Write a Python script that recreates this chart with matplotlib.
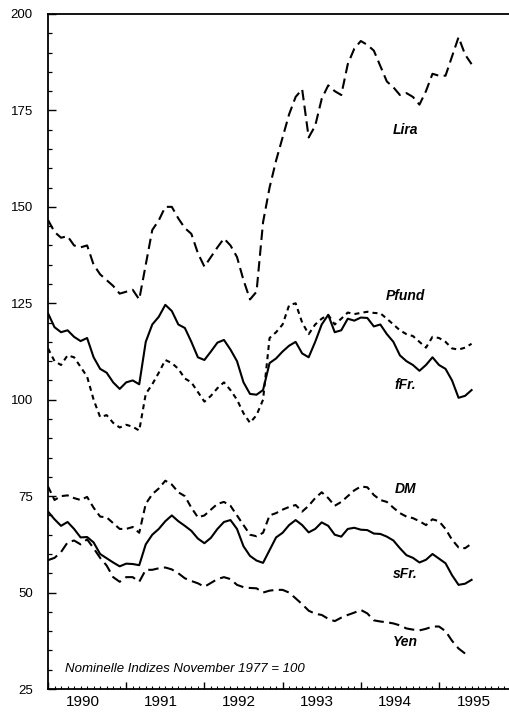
import numpy as np
import matplotlib
matplotlib.use("Agg")
import matplotlib.pyplot as plt
from matplotlib.ticker import MultipleLocator, FixedLocator

plt.rcParams['font.family'] = ['Liberation Sans', 'DejaVu Sans']

# ---- data (monthly, Jan 1990 .. Jun 1995), nominal indices Nov 1977 = 100 ----
start_year = 1990
n_months = 66
years = [1990, 1991, 1992, 1993, 1994, 1995]
year_labels = ['1990', '1991', '1992', '1993', '1994', '1995']
y_ticks = [25, 50, 75, 100, 125, 150, 175, 200]

lira = [146.6, 143.5, 142.0, 142.4, 140.0, 139.5, 140.0, 135.0, 132.5, 131.0,
        129.5, 127.5, 128.0, 128.5, 126.0, 135.0, 144.0, 146.5, 150.0, 150.0,
        147.0, 144.5, 143.0, 138.0, 134.5, 137.0, 139.5, 141.8, 140.0, 137.0,
        131.0, 126.0, 128.0, 146.0, 155.0, 162.0, 168.0, 174.0, 178.5, 180.5,
        168.0, 171.0, 178.0, 181.5, 180.0, 179.0, 187.0, 191.0, 193.0, 192.0,
        190.5, 186.5, 182.5, 181.0, 179.0, 179.5, 178.5, 176.5, 180.0, 184.5,
        184.0, 184.0, 189.0, 194.0, 189.5, 187.0]

pfund = [113.3, 110.0, 109.0, 111.5, 111.0, 108.5, 106.0, 100.0, 95.5, 96.0,
         94.0, 92.8, 93.5, 93.0, 92.0, 101.5, 104.0, 107.0, 110.3, 109.5,
         108.0, 105.5, 104.5, 102.0, 99.5, 101.0, 103.0, 104.5, 102.5, 100.0,
         96.5, 94.0, 96.0, 100.0, 116.0, 117.5, 119.5, 124.5, 125.0, 120.0,
         117.0, 119.5, 121.0, 122.0, 119.5, 121.0, 122.6, 122.2, 122.5, 122.8,
         122.5, 122.4, 121.0, 119.5, 118.0, 117.0, 116.5, 115.0, 113.5, 116.3,
         116.0, 115.0, 113.3, 113.0, 113.5, 114.5]

ffr = [122.4, 118.8, 117.5, 118.0, 116.3, 115.2, 116.0, 111.0, 108.0, 107.0,
       104.5, 102.8, 104.5, 105.0, 104.0, 115.0, 119.5, 121.5, 124.6, 123.0,
       119.5, 118.6, 115.0, 111.0, 110.3, 112.5, 114.8, 115.5, 113.0, 110.0,
       104.5, 101.5, 101.3, 102.5, 109.5, 110.7, 112.5, 114.0, 115.0, 112.0,
       111.0, 115.0, 119.5, 122.0, 117.5, 118.0, 121.0, 120.5, 121.3, 121.2,
       119.0, 119.5, 117.0, 115.0, 111.5, 110.0, 109.0, 107.5, 109.0, 111.0,
       109.0, 108.0, 105.0, 100.5, 101.0, 102.5]

dm = [77.5, 74.0, 75.0, 75.2, 74.5, 74.0, 74.8, 72.0, 69.7, 69.5,
      68.0, 66.5, 66.5, 67.0, 65.5, 73.0, 75.5, 77.0, 79.0, 78.0,
      76.0, 75.0, 72.0, 69.5, 70.0, 71.5, 73.0, 73.5, 72.5, 70.0,
      67.5, 65.0, 64.6, 65.5, 70.0, 70.6, 71.5, 72.2, 72.7, 71.0,
      72.5, 74.5, 76.0, 74.5, 72.5, 73.5, 75.0, 76.5, 77.5, 77.3,
      75.3, 74.0, 73.5, 72.0, 70.6, 69.7, 69.3, 68.5, 67.5, 69.0,
      68.5, 66.5, 63.7, 61.7, 61.5, 62.7]

sfr = [71.0, 69.0, 67.3, 68.3, 66.5, 64.3, 64.4, 63.0, 60.0, 58.9,
       57.8, 56.8, 57.5, 57.4, 57.1, 62.5, 65.0, 66.5, 68.5, 70.0,
       68.5, 67.3, 66.0, 64.0, 62.8, 64.2, 66.5, 68.3, 68.8, 66.5,
       62.0, 59.5, 58.3, 57.7, 61.0, 64.3, 65.5, 67.5, 68.8, 67.5,
       65.6, 66.5, 68.2, 67.3, 65.0, 64.5, 66.5, 66.8, 66.3, 66.2,
       65.3, 65.2, 64.5, 63.5, 61.5, 59.7, 59.0, 57.8, 58.5, 60.0,
       58.8, 57.6, 54.5, 52.0, 52.3, 53.3]

yen = [58.4, 59.0, 60.5, 63.0, 63.5, 62.5, 63.8, 61.5, 59.0, 57.0,
       54.0, 52.8, 54.0, 54.0, 52.8, 55.9, 55.9, 56.3, 56.5, 56.0,
       55.0, 53.7, 53.0, 52.4, 51.5, 52.5, 53.5, 54.0, 53.5, 52.0,
       51.4, 51.2, 51.1, 50.0, 50.5, 50.7, 50.7, 50.0, 48.5, 47.0,
       45.3, 44.5, 44.2, 43.2, 42.6, 43.5, 44.2, 44.8, 45.5, 44.6,
       42.8, 42.5, 42.3, 42.0, 41.5, 40.7, 40.4, 40.2, 40.6, 41.2,
       41.2, 40.0, 37.5, 35.5, 34.2, np.nan]

series_names = ['Lira', 'Pfund', 'fFr.', 'DM', 'sFr.', 'Yen']
label_values = [170.0, 127.0, 103.8, 76.8, 54.8, 37.2]
note_text = 'Nominelle Indizes November 1977 = 100'

t = start_year + np.arange(n_months) / 12.0

# ---- figure ----
fig = plt.figure(figsize=(5.09, 7.15), dpi=100)
ax = fig.add_axes([48 / 509, 26 / 715, 1 - 48 / 509, (689 - 14) / 715])

lw = 1.5
ax.plot(t, lira, color='black', lw=lw, dashes=(5.0, 2.6))
ax.plot(t, pfund, color='black', lw=lw, dashes=(2.4, 2.0))
ax.plot(t, ffr, color='black', lw=lw)
ax.plot(t, dm, color='black', lw=lw, dashes=(3.4, 2.2))
ax.plot(t, sfr, color='black', lw=lw)
ax.plot(t, yen, color='black', lw=lw, dashes=(5.0, 2.6))

ax.set_xlim(1990, 1990 + (509 - 48) / 78.2)
ax.set_ylim(25, 200)

# spines
ax.spines['right'].set_visible(False)
for s in ['left', 'top', 'bottom']:
    ax.spines[s].set_linewidth(1.3)

# y ticks
ax.yaxis.set_major_locator(FixedLocator(y_ticks))
ax.yaxis.set_minor_locator(MultipleLocator(5))
ax.tick_params(axis='y', which='major', direction='in', length=6, width=1.0,
               pad=11, labelsize=9.5)
ax.tick_params(axis='y', which='minor', direction='in', length=3, width=0.9)

# x ticks: year boundaries + monthly minor ticks
ax.xaxis.set_major_locator(FixedLocator(years))
ax.xaxis.set_minor_locator(MultipleLocator(1 / 12))
ax.set_xticklabels([''] * len(years))
ax.tick_params(axis='x', which='major', direction='in', length=5, width=1.0)
ax.tick_params(axis='x', which='minor', direction='in', length=2.5, width=0.8)

# year labels placed mid-year
sec = ax.secondary_xaxis('bottom')
sec.set_xticks([y + 0.44 for y in years], labels=year_labels)
sec.tick_params(length=0, pad=4, labelsize=11)
sec.spines['bottom'].set_visible(False)

# series labels
lab_kw = dict(fontsize=10, fontweight='bold', fontstyle='italic',
              ha='center', va='center')
label_x = 1994.57
for name, val in zip(series_names, label_values):
    ax.text(label_x, val, name, **lab_kw)

ax.text(1990.22, 30.3, note_text, fontsize=9.5, fontstyle='italic',
        ha='left', va='center')

fig.savefig('out.png', dpi=100)
